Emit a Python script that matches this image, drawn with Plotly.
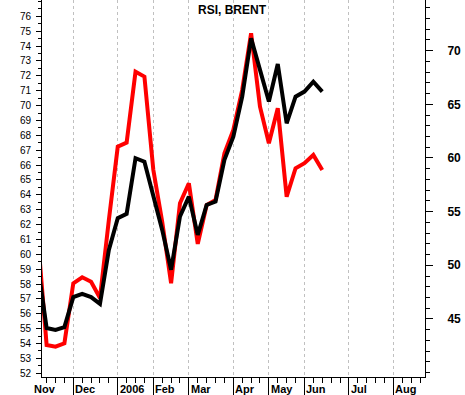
import plotly.graph_objects as go

# Weekly bar index (0 = first week of Dec 2005)
weeks = list(range(-4, 29))
brent = [59.30, 55.04, 54.92, 55.10, 57.12, 57.34, 57.12, 56.67, 60.30, 62.43,
         62.72, 66.46, 66.23, 63.93, 61.64, 58.96, 62.54, 63.88, 61.31, 63.32,
         63.55, 66.35, 67.91, 70.60, 74.53, 72.40, 70.27, 72.80, 68.81, 70.60,
         70.94, 71.61, 70.94]
rsi = [52.80, 42.57, 42.41, 42.73, 48.32, 48.88, 48.47, 46.95, 54.22, 61.05,
       61.43, 68.04, 67.58, 58.90, 54.06, 48.32, 55.78, 57.64, 51.99, 55.62,
       56.09, 60.44, 62.61, 66.34, 71.62, 64.78, 61.37, 64.63, 56.39, 59.04,
       59.51, 60.28, 58.88]
month_pos = [0, 5, 9, 13, 18, 22, 26, 31, 36]
month_labels = ["Dec", "2006", "Feb", "Mar", "Apr", "May", "Jun", "Jul", "Aug"]
left_ticks = list(range(52, 77))
right_ticks = [45, 50, 55, 60, 65, 70]

FONT = "Liberation Sans, Arial, sans-serif"

fig = go.Figure()
fig.add_trace(go.Scatter(x=weeks, y=rsi, mode="lines",
                         line=dict(color="#ff0000", width=4), yaxis="y",
                         showlegend=False, hoverinfo="skip"))
fig.add_trace(go.Scatter(x=weeks, y=brent, mode="lines",
                         line=dict(color="#000000", width=4), yaxis="y2",
                         showlegend=False, hoverinfo="skip"))

fig.update_layout(
    width=465, height=395,
    margin=dict(l=42, r=40, t=0, b=18, pad=0),
    paper_bgcolor="white", plot_bgcolor="white",
    font=dict(family=FONT, color="black"),
    xaxis=dict(
        range=[-3.52, 39.56], tickmode="array", tickvals=month_pos,
        ticks="outside", ticklen=18, tickcolor="black", tickwidth=1,
        showticklabels=False, showgrid=True, gridcolor="#c0c0c0",
        griddash="3px,3px", gridwidth=1, zeroline=False,
        showline=True, linecolor="black", linewidth=1,
        minor=dict(tickmode="linear", tick0=0, dtick=1, ticks="outside",
                   ticklen=5, tickcolor="black", tickwidth=1, showgrid=False),
    ),
    yaxis=dict(
        side="right", range=[39.59, 74.72], tickmode="array",
        tickvals=right_ticks, ticks="outside", ticklen=7, tickcolor="black",
        showgrid=False, zeroline=False, showline=True, linecolor="black",
        linewidth=1, ticklabelstandoff=12,
        tickfont=dict(size=12, family=FONT, weight="bold"),
        minor=dict(tickmode="linear", tick0=0, dtick=1, ticks="outside",
                   ticklen=4, tickcolor="black", showgrid=False),
    ),
    yaxis2=dict(
        side="left", overlaying="y", range=[51.75, 77.1], tickmode="array",
        tickvals=left_ticks, ticks="outside", ticklen=5, tickcolor="black",
        showgrid=False, zeroline=False, showline=True, linecolor="black",
        linewidth=1, ticklabelstandoff=3,
        tickfont=dict(size=10, family=FONT),
        minor=dict(tickmode="linear", tick0=0, dtick=0.5, ticks="outside",
                   ticklen=3, tickcolor="black", showgrid=False),
    ),
)

annotations = [dict(text="<b>RSI, BRENT</b>", xref="paper", yref="paper",
                    x=0.4965, y=1 - 10 / 377, xanchor="center", yanchor="middle",
                    showarrow=False, font=dict(size=12, family=FONT))]
annotations.append(dict(text="<b>Nov</b>", xref="paper", yref="paper",
                        x=(58 - 42) / 383, y=-12 / 377, xanchor="right",
                        yanchor="middle", showarrow=False,
                        font=dict(size=11, family=FONT)))
for p, lab in zip(month_pos, month_labels):
    annotations.append(dict(text="<b>%s</b>" % lab, xref="x", yref="paper",
                            x=p, y=-12 / 377, xanchor="left", yanchor="middle",
                            xshift=0, showarrow=False,
                            font=dict(size=11, family=FONT)))
fig.update_layout(annotations=annotations)

fig.write_html("out.html")
